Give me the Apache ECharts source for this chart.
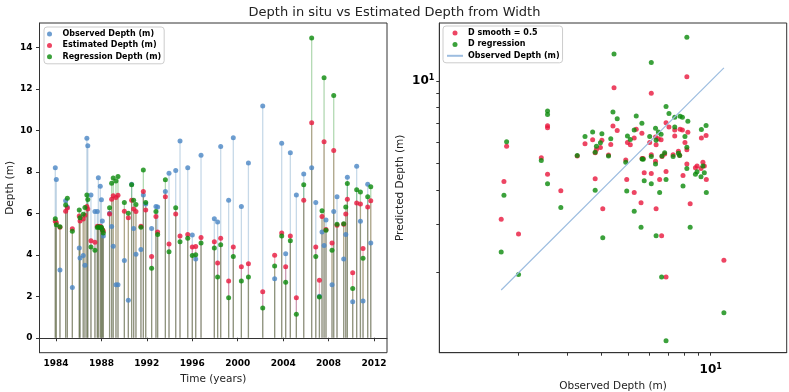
<!DOCTYPE html>
<html lang="en">
<head>
<meta charset="utf-8">
<title>Depth in situ vs Estimated Depth from Width</title>
<script src="https://cdn.jsdelivr.net/npm/echarts@6/dist/echarts.min.js"></script>
<style>
  html, body { margin: 0; padding: 0; background: #fff; }
  #chart { width: 789px; height: 392px; }
</style>
</head>
<body>
<div id="chart"></div>

<script>
// survey dates (decimal years) and depths
var years = [1983.94, 1984.03, 1984.35, 1984.85, 1985.00, 1985.44, 1986.05, 1986.12, 1986.40, 1986.55,
  1986.72, 1986.80, 1987.08, 1987.43, 1987.64, 1987.73, 1987.90, 1988.00, 1988.08, 1988.17,
  1988.72, 1988.90, 1989.04, 1989.28, 1989.46, 1990.02, 1990.37, 1990.66, 1990.84, 1991.04,
  1991.48, 1991.69, 1991.90, 1992.42, 1992.80, 1992.95, 1993.63, 1993.95, 1994.54, 1994.92,
  1995.60, 1996.00, 1996.30, 1996.77, 1997.94, 1998.23, 1998.50, 1999.20, 1999.61, 2000.32,
  2000.94, 2002.20, 2003.25, 2003.87, 2004.22, 2004.63, 2005.16, 2005.81, 2006.51, 2006.87,
  2007.19, 2007.42, 2007.60, 2007.77, 2008.30, 2008.45, 2008.74, 2009.33, 2009.51, 2009.65,
  2010.12, 2010.47, 2010.80, 2011.03, 2011.44, 2011.71];

var observed = [8.19, 7.63, 3.27, 6.60, 6.30, 2.42, 4.33, 3.84, 3.97, 3.49,
  9.62, 9.25, 6.88, 6.08, 6.08, 7.71, 7.30, 6.65, 5.63, 4.91,
  6.00, 5.36, 4.41, 2.55, 2.55, 3.72, 1.81, 7.40, 5.27, 4.02,
  4.25, 6.88, 6.45, 5.27, 6.33, 6.30, 7.05, 7.93, 8.06, 9.48,
  8.19, 4.95, 3.80, 8.80, 5.73, 5.58, 9.22, 6.63, 9.64, 6.33,
  8.42, 11.17, 2.85, 9.37, 4.05, 8.92, 6.88, 7.89, 8.19, 6.52,
  2.00, 5.10, 4.45, 5.68, 2.55, 6.08, 6.80, 3.80, 4.98, 7.74,
  1.73, 8.26, 5.62, 1.77, 7.40, 4.57];

var estimated = [5.62, 5.55, 5.33, 6.10, 6.25, 5.25, 5.87, 5.63, 5.72, 5.90,
  6.33, 6.20, 4.68, 4.60, 5.38, 5.36, 5.38, 5.30, 5.22, 5.15,
  5.97, 6.67, 6.85, 6.76, 6.87, 6.10, 5.78, 6.63, 6.20, 6.08,
  5.37, 7.05, 6.16, 3.92, 5.85, 5.10, 6.80, 4.52, 5.97, 4.90,
  4.98, 4.37, 4.40, 4.83, 4.63, 3.60, 4.80, 2.73, 4.37, 3.42,
  3.57, 2.22, 3.98, 5.05, 3.42, 4.90, 1.93, 6.63, 10.36, 4.37,
  2.77, 5.85, 9.45, 5.22, 4.57, 9.03, 5.42, 5.47, 5.97, 6.67,
  3.13, 6.50, 6.45, 4.30, 6.30, 6.60];

var regression = [5.73, 5.45, 5.35, 6.40, 6.72, 5.13, 6.16, 5.78, 5.95, 6.28,
  6.88, 6.66, 4.37, 4.22, 5.31, 5.35, 5.30, 5.33, 5.20, 5.05,
  6.27, 7.45, 7.70, 7.55, 7.77, 6.52, 6.00, 7.38, 6.63, 6.42,
  5.33, 8.08, 6.52, 3.35, 6.08, 4.98, 7.61, 4.14, 6.27, 4.63,
  4.80, 3.97, 4.00, 4.57, 4.33, 2.93, 4.48, 1.93, 3.92, 2.73,
  2.93, 1.43, 3.46, 4.90, 2.68, 4.67, 1.13, 7.37, 14.45, 3.92,
  1.97, 6.12, 12.53, 5.18, 4.22, 11.67, 5.47, 5.50, 6.30, 7.43,
  2.38, 7.13, 7.02, 3.83, 6.80, 7.28];

var yearTicks = [1984, 1988, 1992, 1996, 2000, 2004, 2008, 2012];
var depthTicks = [0, 2, 4, 6, 8, 10, 12, 14];
var logLabels = [10];
var logTicks = [2, 3, 4, 5, 6, 7, 8, 9, 10];

var FONT = 'DejaVu Sans';
var BLUE = '#4a86c4', RED = '#e8163c', GREEN = '#0a8a0a';

var chart = echarts.init(document.getElementById('chart'));

// vertical stem from 0 up to the value
function stem(color) {
  return function (params, api) {
    var p0 = api.coord([api.value(0), 0]);
    var p1 = api.coord([api.value(0), api.value(1)]);
    return {
      type: 'line',
      shape: { x1: p0[0], y1: p0[1], x2: p1[0], y2: p1[1] },
      style: { stroke: color, lineWidth: 1.3 }
    };
  };
}

function pairs(xs, ys) {
  return xs.map(function (x, i) { return [x, ys[i]]; });
}

var obsSorted = observed.slice().sort(function (a, b) { return a - b; });
var identity = [[obsSorted[0], obsSorted[0]], [obsSorted[obsSorted.length - 1], obsSorted[obsSorted.length - 1]]];

var tickLbl = { fontFamily: FONT, fontSize: 9, fontWeight: 'bold', color: '#000' };
var nameLbl = { fontFamily: FONT, fontSize: 10.5, color: '#222' };
var frame = { lineStyle: { color: '#333', width: 1 } };

var sup = {
  a: { fontFamily: FONT, fontSize: 12, fontWeight: 'bold', color: '#000' },
  b: { fontFamily: FONT, fontSize: 8, fontWeight: 'bold', color: '#000', verticalAlign: 'top', padding: [0, 0, 6, 0] }
};

option = {
  animation: false,
  title: {
    text: 'Depth in situ vs Estimated Depth from Width',
    left: 'center', top: 1,
    textStyle: { fontFamily: FONT, fontSize: 13, fontWeight: 'normal', color: '#222' }
  },
  legend: [{
    data: ['Observed Depth (m)', 'Estimated Depth (m)', 'Regression Depth (m)'],
    left: 44, top: 27, orient: 'vertical', selectedMode: false,
    itemWidth: 16, itemHeight: 5, itemGap: 1.4,
    padding: [2, 3, 2, 3],
    backgroundColor: 'rgba(255,255,255,0.8)', borderColor: '#cccccc', borderWidth: 1, borderRadius: 3,
    textStyle: { fontFamily: FONT, fontSize: 8, fontWeight: 'bold', color: '#000', lineHeight: 10 }
  }, {
    data: ['D smooth = 0.5', 'D regression', 'Observed Depth (m) '],
    formatter: function (n) { return n.trim(); },
    left: 443, top: 26, orient: 'vertical', selectedMode: false,
    itemWidth: 16, itemHeight: 5, itemGap: 1.4,
    padding: [2, 3, 2, 3],
    backgroundColor: 'rgba(255,255,255,0.8)', borderColor: '#cccccc', borderWidth: 1, borderRadius: 3,
    textStyle: { fontFamily: FONT, fontSize: 8, fontWeight: 'bold', color: '#000', lineHeight: 10 }
  }],
  grid: [
    { left: 39.5, top: 23, width: 347.5, height: 329.7, show: true, borderColor: '#333', borderWidth: 1,
      containLabel: false, outerBoundsMode: 'none' },
    { left: 439.3, top: 23, width: 347.4, height: 329.7, show: true, borderColor: '#333', borderWidth: 1,
      containLabel: false, outerBoundsMode: 'none' }
  ],
  xAxis: [{
    gridIndex: 0, type: 'value', min: 1982.55, max: 2013.14,
    name: 'Time (years)', nameLocation: 'middle', nameGap: 21, nameTextStyle: nameLbl,
    axisLine: frame, splitLine: { show: false },
    axisTick: { customValues: yearTicks, length: 3.5, lineStyle: { color: '#333' } },
    axisLabel: Object.assign({ customValues: yearTicks, margin: 6, formatter: function (v) { return String(v); } }, tickLbl)
  }, {
    gridIndex: 1, type: 'log', logBase: 10, min: 1.03, max: 18.9,
    name: 'Observed Depth (m)', nameLocation: 'middle', nameGap: 23, nameTextStyle: nameLbl,
    axisLine: frame, splitLine: { show: false }, minorTick: { show: false },
    axisTick: { customValues: logTicks, length: 3, lineStyle: { color: '#333' } },
    axisLabel: { customValues: logLabels, margin: 10, formatter: function () { return '{a|10}{b|1}'; }, rich: sup }
  }],
  yAxis: [{
    gridIndex: 0, type: 'value', min: -0.72, max: 15.17,
    name: 'Depth (m)', nameLocation: 'middle', nameGap: 24, nameTextStyle: nameLbl,
    axisLine: frame, splitLine: { show: false },
    axisTick: { customValues: depthTicks, length: 3.5, lineStyle: { color: '#333' } },
    axisLabel: Object.assign({ customValues: depthTicks, margin: 7 }, tickLbl)
  }, {
    gridIndex: 1, type: 'log', logBase: 10, min: 1.022, max: 16.27,
    name: 'Predicted Depth (m)', nameLocation: 'middle', nameGap: 34, nameTextStyle: nameLbl,
    axisLine: frame, splitLine: { show: false }, minorTick: { show: false },
    axisTick: { customValues: logTicks, length: 3, lineStyle: { color: '#333' } },
    axisLabel: { customValues: logLabels, margin: 5, formatter: function () { return '{a|10}{b|1}'; }, rich: sup }
  }],
  series: [
    { name: 'obsStem', type: 'custom', xAxisIndex: 0, yAxisIndex: 0, silent: true,
      renderItem: stem('rgba(70,130,180,0.3)'), data: pairs(years, observed) },
    { name: 'estStem', type: 'custom', xAxisIndex: 0, yAxisIndex: 0, silent: true,
      renderItem: stem('rgba(220,20,60,0.3)'), data: pairs(years, estimated) },
    { name: 'regStem', type: 'custom', xAxisIndex: 0, yAxisIndex: 0, silent: true,
      renderItem: stem('rgba(0,128,0,0.3)'), data: pairs(years, regression) },
    { name: 'Observed Depth (m)', type: 'scatter', xAxisIndex: 0, yAxisIndex: 0,
      symbolSize: 5, itemStyle: { color: BLUE }, data: pairs(years, observed) },
    { name: 'Estimated Depth (m)', type: 'scatter', xAxisIndex: 0, yAxisIndex: 0,
      symbolSize: 5, itemStyle: { color: RED }, data: pairs(years, estimated) },
    { name: 'Regression Depth (m)', type: 'scatter', xAxisIndex: 0, yAxisIndex: 0,
      symbolSize: 5, itemStyle: { color: GREEN }, data: pairs(years, regression) },

    { name: 'Observed Depth (m) ', type: 'line', xAxisIndex: 1, yAxisIndex: 1,
      symbol: 'none', showSymbol: false, lineStyle: { color: '#9dbde0', width: 1.2 },
      itemStyle: { color: '#9dbde0', opacity: 0 }, data: identity },
    { name: 'D smooth = 0.5', type: 'scatter', xAxisIndex: 1, yAxisIndex: 1,
      symbolSize: 5, itemStyle: { color: RED }, data: pairs(observed, estimated) },
    { name: 'D regression', type: 'scatter', xAxisIndex: 1, yAxisIndex: 1,
      symbolSize: 5, itemStyle: { color: GREEN }, data: pairs(observed, regression) }
  ]
};

chart.setOption(option);
</script>
</body>
</html>
